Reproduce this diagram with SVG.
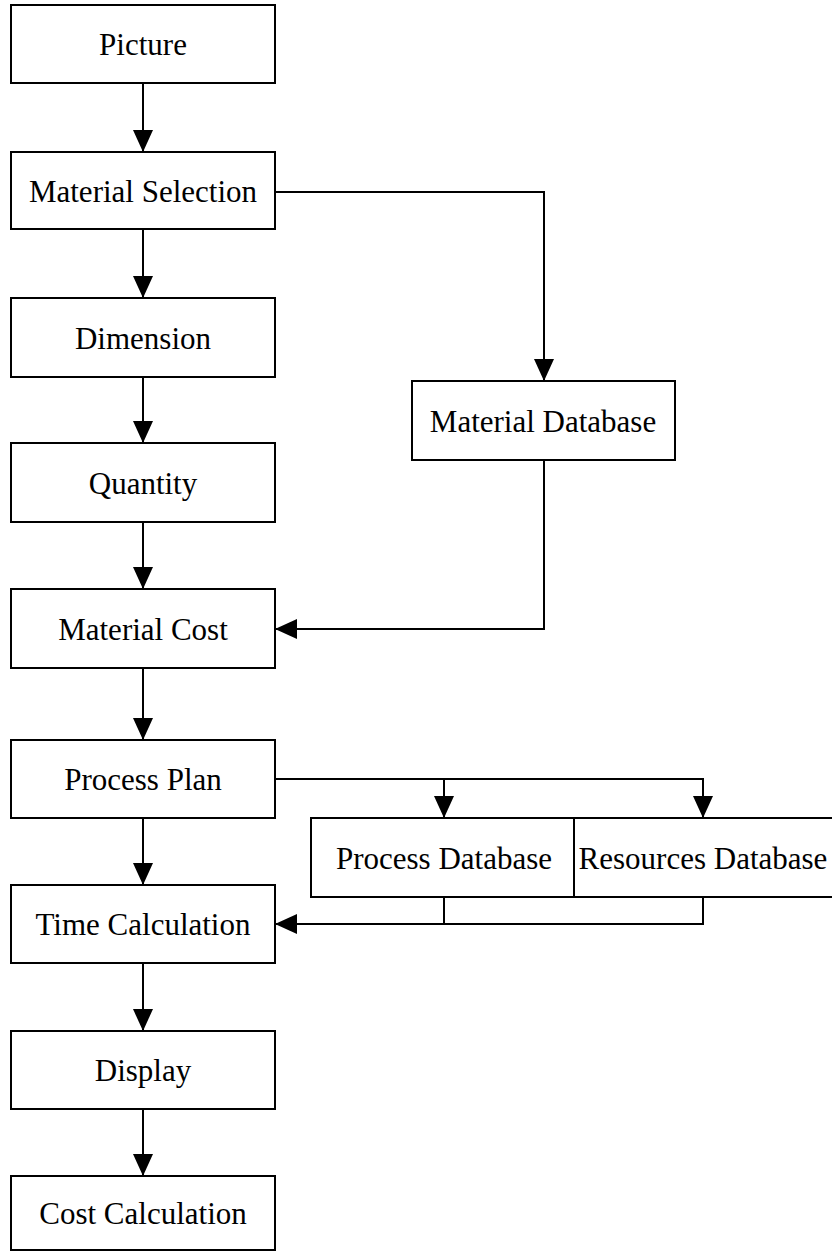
<svg xmlns="http://www.w3.org/2000/svg" width="832" height="1253" viewBox="0 0 832 1253">
  <style>
    .box { fill: #ffffff; stroke: #000000; stroke-width: 2; }
    .lbl { font-family: "Liberation Serif", "Times New Roman", serif; font-size: 31px; fill: #000000; text-anchor: middle; }
    .wire { fill: none; stroke: #000000; stroke-width: 2; }
    .arr { marker-end: url(#head); }
  </style>
  <defs>
    <marker id="head" markerUnits="userSpaceOnUse" viewBox="0 0 22 20" markerWidth="22" markerHeight="20" refX="22" refY="10" orient="auto">
      <path d="M0,0 L22,10 L0,20 z" fill="#000000"/>
    </marker>
  </defs>
  <rect width="832" height="1253" fill="#ffffff"/>

  <!-- connectors -->
  <g id="connectors">
    <path class="wire arr" d="M143,83 V152"/>
    <path class="wire arr" d="M143,229 V298"/>
    <path class="wire arr" d="M143,377 V443"/>
    <path class="wire arr" d="M143,522 V589"/>
    <path class="wire arr" d="M143,668 V740"/>
    <path class="wire arr" d="M143,818 V885"/>
    <path class="wire arr" d="M143,963 V1031"/>
    <path class="wire arr" d="M143,1109 V1176"/>
    <path class="wire arr" d="M275,192 H544 V381"/>
    <path class="wire arr" d="M544,460 V629 H275"/>
    <path class="wire arr" d="M275,779 H444 V818"/>
    <path class="wire arr" d="M444,779 H703 V818"/>
    <path class="wire" d="M703,897 V924 H444"/>
    <path class="wire arr" d="M444,897 V924 H275"/>
  </g>

  <!-- main flow column -->
  <g id="picture">
    <rect class="box" x="11" y="5" width="264" height="78"/>
    <text class="lbl" x="143" y="55">Picture</text>
  </g>
  <g id="material-selection">
    <rect class="box" x="11" y="152" width="264" height="77"/>
    <text class="lbl" x="143" y="202">Material Selection</text>
  </g>
  <g id="dimension">
    <rect class="box" x="11" y="298" width="264" height="79"/>
    <text class="lbl" x="143" y="349">Dimension</text>
  </g>
  <g id="quantity">
    <rect class="box" x="11" y="443" width="264" height="79"/>
    <text class="lbl" x="143" y="494">Quantity</text>
  </g>
  <g id="material-cost">
    <rect class="box" x="11" y="589" width="264" height="79"/>
    <text class="lbl" x="143" y="640">Material Cost</text>
  </g>
  <g id="process-plan">
    <rect class="box" x="11" y="740" width="264" height="78"/>
    <text class="lbl" x="143" y="790">Process Plan</text>
  </g>
  <g id="time-calculation">
    <rect class="box" x="11" y="885" width="264" height="78"/>
    <text class="lbl" x="143" y="935">Time Calculation</text>
  </g>
  <g id="display">
    <rect class="box" x="11" y="1031" width="264" height="78"/>
    <text class="lbl" x="143" y="1081">Display</text>
  </g>
  <g id="cost-calculation">
    <rect class="box" x="11" y="1176" width="264" height="74"/>
    <text class="lbl" x="143" y="1224">Cost Calculation</text>
  </g>

  <!-- databases -->
  <g id="material-database">
    <rect class="box" x="412" y="381" width="263" height="79"/>
    <text class="lbl" x="543" y="432">Material Database</text>
  </g>
  <g id="process-database">
    <rect class="box" x="311" y="818" width="263" height="79"/>
    <text class="lbl" x="444" y="869">Process Database</text>
  </g>
  <g id="resources-database">
    <rect class="box" x="574" y="818" width="262" height="79"/>
    <text class="lbl" x="703" y="869">Resources Database</text>
  </g>
</svg>
